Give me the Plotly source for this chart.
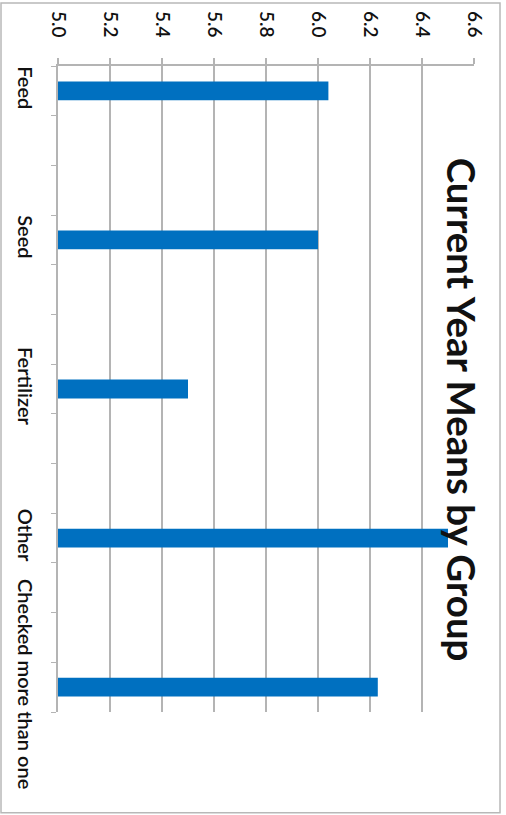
import plotly.graph_objects as go

# ---- data ----
categories = ["Feed", "Seed", "Fertilizer", "Other", "Checked more than one"]
means = [6.04, 6.00, 5.50, 6.50, 6.23]
value_ticks = [5.0, 5.2, 5.4, 5.6, 5.8, 6.0, 6.2, 6.4, 6.6]
title_text = "Current Year Means by Group"

# each group sits on every third slot of the category axis (blank slots between)
GAP = 3
slots = [GAP * i for i in range(len(categories))]
n_slots = GAP * (len(categories) - 1) + 1

FONT = "Lato"
GRID = "#b4b4b4"
TEXT = "#111111"

fig = go.Figure(
    go.Bar(
        x=means,
        y=slots,
        orientation="h",
        width=0.38,
        base=0,
        marker=dict(color="#0070C0", line=dict(width=0)),
        hoverinfo="skip",
    )
)

fig.update_layout(
    width=506,
    height=815,
    margin=dict(l=58, r=32, t=66, b=103),
    plot_bgcolor="white",
    paper_bgcolor="white",
    showlegend=False,
    font=dict(family=FONT, color=TEXT),
)

fig.update_xaxes(
    range=[value_ticks[0], value_ticks[-1]],
    side="top",
    automargin=False,
    tickmode="array",
    tickvals=value_ticks,
    ticktext=[f"{v:.1f}" for v in value_ticks],
    tickangle=90,
    tickfont=dict(size=19, family=FONT, color=TEXT, weight=600),
    showgrid=True,
    gridcolor=GRID,
    gridwidth=1.5,
    showline=True,
    linecolor=GRID,
    linewidth=1.5,
    ticks="outside",
    ticklen=6,
    tickcolor=GRID,
    tickwidth=1.5,
    ticklabelstandoff=14,
    zeroline=False,
)

fig.update_yaxes(
    range=[n_slots - 0.5, -0.5],
    automargin=False,
    tickmode="array",
    tickvals=slots,
    ticktext=categories,
    tickangle=90,
    tickfont=dict(size=20, family=FONT, color=TEXT, weight=600),
    ticks="",
    showgrid=False,
    showline=True,
    linecolor=GRID,
    linewidth=1.5,
    zeroline=False,
    ticklabelstandoff=14,
    minor=dict(
        tickmode="linear",
        tick0=-0.5,
        dtick=1,
        ticks="outside",
        ticklen=5,
        tickcolor=GRID,
        tickwidth=1.2,
        showgrid=False,
    ),
)

# title (rotated, on the right side of the plot)
fig.add_annotation(
    text="<b>" + title_text + "</b>",
    textangle=90,
    xref="paper",
    yref="paper",
    x=0.972,
    y=0.4675,
    xanchor="center",
    yanchor="middle",
    showarrow=False,
    font=dict(size=38.5, family=FONT, color=TEXT),
)

# outer chart-area border
fig.add_shape(
    type="rect",
    xref="paper",
    yref="paper",
    x0=-0.137,
    x1=1.0625,
    y0=-0.156,
    y1=1.0975,
    line=dict(color="#b8b8b8", width=1.5),
    fillcolor="rgba(0,0,0,0)",
    layer="below",
)

fig.write_html(
    "out.html",
    config={"displayModeBar": False},
    post_script="document.body.style.margin='0';",
)
